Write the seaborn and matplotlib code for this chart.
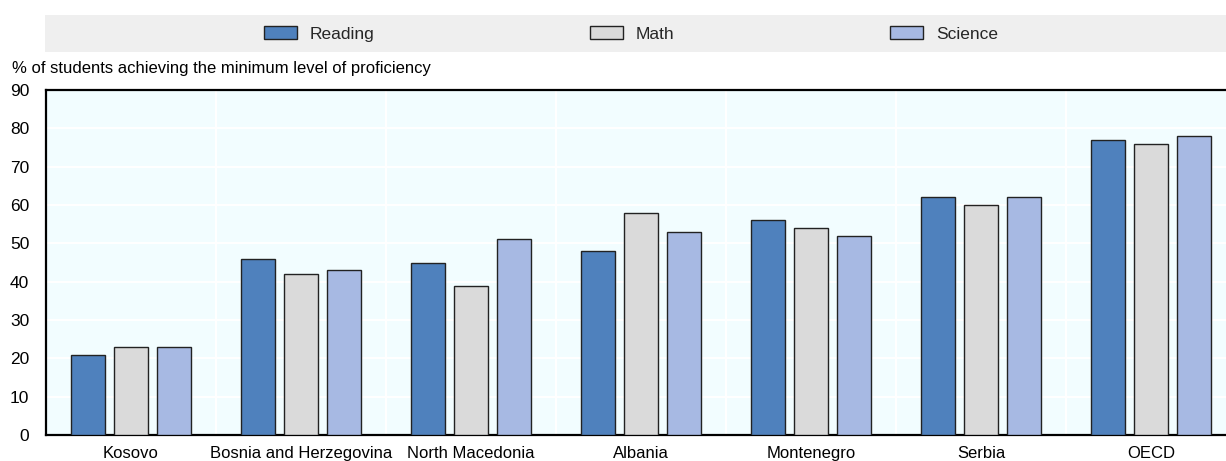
import matplotlib
matplotlib.use("Agg")
import matplotlib.pyplot as plt
import seaborn as sns
import pandas as pd
from matplotlib.patches import Rectangle, Patch
from matplotlib.ticker import MultipleLocator, FixedLocator

categories = ["Kosovo", "Bosnia and Herzegovina", "North Macedonia", "Albania",
              "Montenegro", "Serbia", "OECD"]
reading = [21, 46, 45, 48, 56, 62, 77]
math_ = [23, 42, 39, 58, 54, 60, 76]
science = [23, 43, 51, 53, 52, 62, 78]
series_names = ["Reading", "Math", "Science"]
colors = ["#4F81BD", "#DADADA", "#A7B9E3"]
y_label = "% of students achieving the minimum level of proficiency"

rows = []
for name, vals in zip(series_names, [reading, math_, science]):
    for c, v in zip(categories, vals):
        rows.append({"country": c, "subject": name, "value": v})
df = pd.DataFrame(rows)

sns.set_theme(style="white")
plt.rcParams["font.family"] = ["Liberation Sans", "DejaVu Sans"]

fig = plt.figure(figsize=(12.26, 4.61), dpi=100)
W, H = 1226, 461
ax = fig.add_axes([46 / W, (H - 435) / H, 1190 / W, (435 - 90) / H])
ax.set_facecolor("#F2FDFF")

sns.barplot(data=df, x="country", y="value", hue="subject", order=categories,
            hue_order=series_names, palette=colors, saturation=1, width=0.76, gap=0.21,
            edgecolor="#222222", linewidth=1.0, ax=ax, legend=False, zorder=3)

ax.set_xlim(-0.5, len(categories) - 0.5)
ax.set_ylim(0, 90)
ax.yaxis.set_major_locator(MultipleLocator(10))
ax.set_xlabel("")
ax.set_ylabel("")

ax.xaxis.set_minor_locator(FixedLocator([i + 0.5 for i in range(len(categories) - 1)]))
ax.grid(axis="y", which="major", color="white", linewidth=1.5, zorder=0)
ax.grid(axis="x", which="minor", color="white", linewidth=1.5, zorder=0)
ax.grid(axis="x", which="major", visible=False)
ax.set_axisbelow(True)

fs = 12
ax.tick_params(axis="x", which="major", length=0, labelsize=fs, pad=8, colors="black")
ax.tick_params(axis="x", which="minor", direction="in", length=6, width=1.3, color="black")
ax.tick_params(axis="y", which="major", direction="in", length=5, width=1.3,
               labelsize=12.5, pad=12, colors="black")

for side in ["left", "bottom", "top"]:
    ax.spines[side].set_visible(True)
    ax.spines[side].set_color("black")
    ax.spines[side].set_linewidth(1.6)
ax.spines["right"].set_visible(False)

fig.text(12 / W, 1 - 68 / H, y_label, fontsize=fs, va="center", ha="left", color="black")

fig.patches.append(Rectangle((45 / W, 1 - 52 / H), (W - 45) / W, 37 / H,
                             transform=fig.transFigure, facecolor="#EFEFEF",
                             edgecolor="none", zorder=0))
handles = [Patch(facecolor=c, edgecolor="#222222", linewidth=1.0) for c in colors]
fig.legend(handles, series_names, loc="center", bbox_to_anchor=(631 / W, 1 - 34 / H),
           ncol=3, frameon=False, fontsize=12.5, handlelength=1.9, handleheight=0.8,
           columnspacing=12.4, handletextpad=0.75)

fig.savefig("out.png", dpi=100)
